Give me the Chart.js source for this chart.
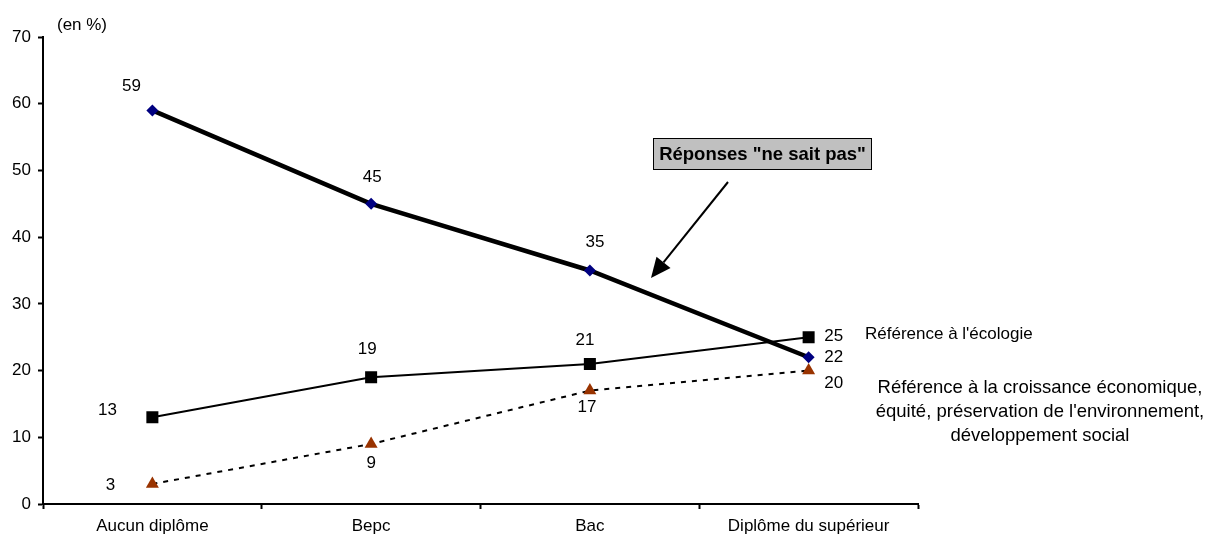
<!DOCTYPE html>
<html>
<head>
<meta charset="utf-8">
<script src="https://cdn.jsdelivr.net/npm/chart.js@4.4.1/dist/chart.umd.min.js"></script>
<style>
  html, body { margin: 0; padding: 0; background: #fff; }
  #wrap { width: 1207px; height: 539px; position: relative; }
</style>
</head>
<body>
<div id="wrap"><canvas id="c" width="1207" height="539"></canvas></div>
<script>
// Niveau de diplôme
const categories = ['Aucun diplôme', 'Bepc', 'Bac', 'Diplôme du supérieur'];
// Réponses "ne sait pas"
const neSaitPas = [59, 45, 35, 22];
// Référence à l'écologie
const ecologie = [13, 19, 21, 25];
// Référence à la croissance économique, équité, préservation de l'environnement, développement social
const croissance = [3, 9, 17, 20];
const yTicks = [0, 10, 20, 30, 40, 50, 60, 70];

const FONT = 'Liberation Sans, Arial, Helvetica, sans-serif';

// Label placement for each series value, relative to its point
const labelOffsets = [
  [[-21, -24], [1, -26], [5, -28], [25, 0]],
  [[-45, -7], [-4, -28], [-5, -24], [25, -1]],
  [[-42, 1], [0, 19], [-3, 17], [25, 13]]
];

const annotations = {
  id: 'annotations',
  afterDatasetsDraw(chart) {
    const ctx = chart.ctx;
    ctx.save();
    // value labels
    ctx.fillStyle = '#000';
    ctx.font = '17px ' + FONT;
    ctx.textAlign = 'center';
    ctx.textBaseline = 'middle';
    chart.data.datasets.forEach((ds, i) => {
      const meta = chart.getDatasetMeta(i);
      meta.data.forEach((pt, j) => {
        const o = labelOffsets[i][j];
        ctx.fillText(String(ds.data[j]), pt.x + o[0], pt.y + o[1]);
      });
    });
    // unit
    ctx.fillText('(en %)', 82, 25);

    // series captions
    ctx.textAlign = 'left';
    ctx.fillText("Référence à l'écologie", 865, 334);
    ctx.textAlign = 'center';
    ctx.font = '18.5px ' + FONT;
    const lines = ['Référence à la croissance économique,', "équité, préservation de l'environnement,", 'développement social'];
    lines.forEach((l, k) => ctx.fillText(l, 1040, 388 + k * 24));

    // boxed caption with arrow
    const bx = 653, by = 138, bw = 219, bh = 32;
    ctx.fillStyle = '#c0c0c0';
    ctx.fillRect(bx, by, bw, bh);
    ctx.strokeStyle = '#000';
    ctx.lineWidth = 1;
    ctx.strokeRect(bx + 0.5, by + 0.5, bw - 1, bh - 1);
    ctx.fillStyle = '#000';
    ctx.font = 'bold 18.5px ' + FONT;
    ctx.textAlign = 'center';
    ctx.fillText('Réponses "ne sait pas"', bx + bw / 2, by + bh / 2 + 1);

    const x0 = 728, y0 = 182, x1 = 651, y1 = 278;
    const ang = Math.atan2(y1 - y0, x1 - x0);
    const hl = 20, hw = 9;
    const bxh = x1 - hl * Math.cos(ang), byh = y1 - hl * Math.sin(ang);
    ctx.beginPath();
    ctx.moveTo(x0, y0);
    ctx.lineTo(bxh, byh);
    ctx.lineWidth = 2;
    ctx.stroke();
    ctx.beginPath();
    ctx.moveTo(x1, y1);
    ctx.lineTo(bxh + hw * Math.sin(ang), byh - hw * Math.cos(ang));
    ctx.lineTo(bxh - hw * Math.sin(ang), byh + hw * Math.cos(ang));
    ctx.closePath();
    ctx.fill();
    ctx.restore();
  }
};

new Chart(document.getElementById('c'), {
  type: 'line',
  data: {
    labels: categories,
    datasets: [
      {
        label: 'Réponses "ne sait pas"',
        data: neSaitPas,
        borderColor: '#000',
        borderWidth: 4.5,
        pointStyle: 'rectRot',
        pointRadius: 6,
        pointBackgroundColor: '#000080',
        pointBorderColor: '#000080',
        pointBorderWidth: 0,
        tension: 0
      },
      {
        label: "Référence à l'écologie",
        data: ecologie,
        borderColor: '#000',
        borderWidth: 2,
        pointStyle: 'rect',
        pointRadius: 8.5,
        pointBackgroundColor: '#000',
        pointBorderColor: '#000',
        pointBorderWidth: 0,
        tension: 0
      },
      {
        label: 'Référence à la croissance économique',
        data: croissance,
        borderColor: '#000',
        borderWidth: 2,
        borderDash: [5, 6],
        pointStyle: 'triangle',
        pointRadius: 7.5,
        pointBackgroundColor: '#993300',
        pointBorderColor: '#993300',
        pointBorderWidth: 0,
        tension: 0
      }
    ]
  },
  options: {
    responsive: false,
    animation: false,
    devicePixelRatio: 1,
    layout: { padding: { top: 37, right: 289, left: 0, bottom: 0 } },
    plugins: { legend: { display: false }, tooltip: { enabled: false } },
    scales: {
      x: {
        type: 'category',
        offset: true,
        afterFit(s) { s.height = 35; },
        grid: { offset: true, drawOnChartArea: false, tickLength: 5, color: '#000', tickWidth: 2 },
        border: { color: '#000', width: 2 },
        ticks: { color: '#000', font: { family: FONT, size: 17 }, padding: 7, maxRotation: 0, autoSkip: false }
      },
      y: {
        min: 0,
        max: 70,
        afterFit(s) { s.width = 43; },
        afterBuildTicks(s) { s.ticks = yTicks.map(v => ({ value: v })); },
        grid: { drawOnChartArea: false, tickLength: 5, color: '#000', tickWidth: 2 },
        border: { color: '#000', width: 2 },
        ticks: { color: '#000', font: { family: FONT, size: 17 }, padding: 7 }
      }
    }
  },
  plugins: [annotations]
});
</script>
</body>
</html>
